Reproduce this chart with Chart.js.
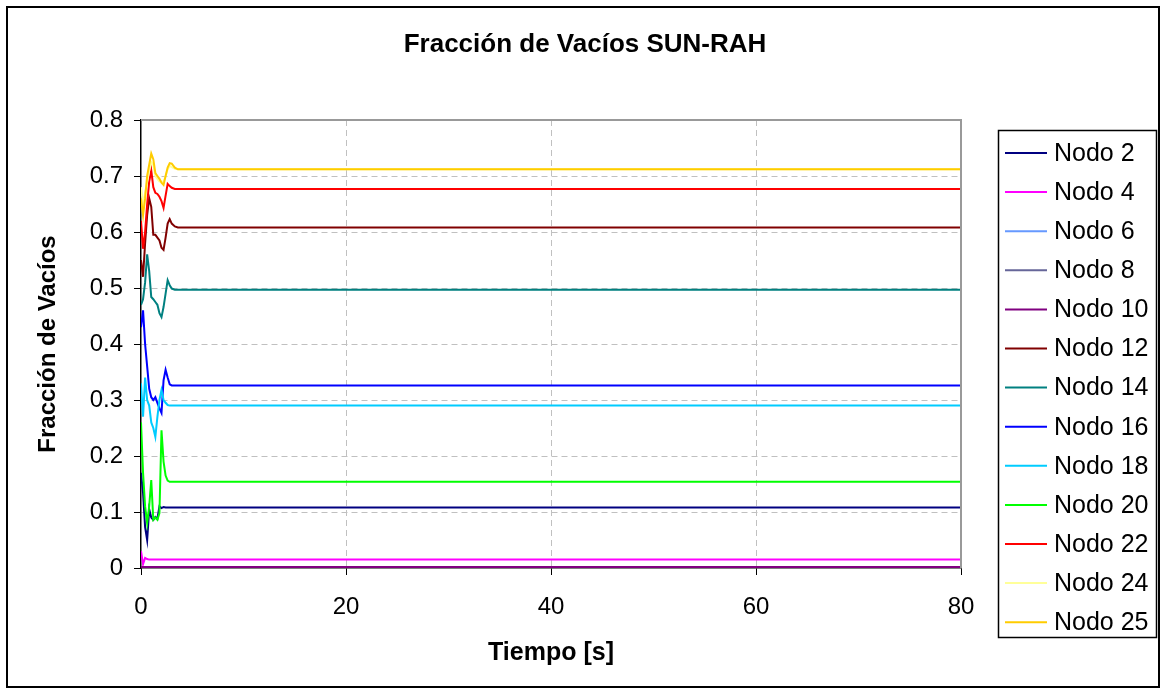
<html lang="es">
<head>
<meta charset="UTF-8">
<title>Fracción de Vacíos SUN-RAH</title>
<script src="https://cdn.jsdelivr.net/npm/chart.js"></script>
<style>
  body { margin: 0; background: #fff; }
  canvas { display: block; }
</style>
</head>
<body>
<canvas id="voidChart" width="1162" height="690"></canvas>
<script>
// time samples [s], shared by every series
const tiempo = [0, 0.2, 0.4, 0.6, 0.8, 1.0, 1.2, 1.4, 1.6, 1.8, 2.0, 2.2, 2.4, 2.6, 2.8, 3.0, 3.3, 3.6, 4.0, 80];

const nodo2  = [0.17, 0.134, 0.073, 0.05, 0.105, 0.09, 0.086, 0.091, 0.088, 0.11, 0.107, 0.109, 0.108, 0.108, 0.108, 0.108, 0.108, 0.108, 0.108, 0.108];
const nodo4  = [0.03, 0.007, 0.018, 0.016, 0.015, 0.015, 0.015, 0.015, 0.015, 0.015, 0.015, 0.015, 0.015, 0.015, 0.015, 0.015, 0.015, 0.015, 0.015, 0.015];
const nodo6  = [0.001, 0.001, 0.001, 0.001, 0.001, 0.001, 0.001, 0.001, 0.001, 0.001, 0.001, 0.001, 0.001, 0.001, 0.001, 0.001, 0.001, 0.001, 0.001, 0.001];
const nodo8  = [0.001, 0.001, 0.001, 0.001, 0.001, 0.001, 0.001, 0.001, 0.001, 0.001, 0.001, 0.001, 0.001, 0.001, 0.001, 0.001, 0.001, 0.001, 0.001, 0.001];
const nodo10 = [0.002, 0.002, 0.002, 0.002, 0.002, 0.002, 0.002, 0.002, 0.002, 0.002, 0.002, 0.002, 0.002, 0.002, 0.002, 0.002, 0.002, 0.002, 0.002, 0.002];
const nodo12 = [0.55, 0.52, 0.58, 0.63, 0.66, 0.645, 0.595, 0.595, 0.59, 0.585, 0.572, 0.568, 0.59, 0.615, 0.623, 0.615, 0.61, 0.608, 0.608, 0.608];
const nodo14 = [0.47, 0.48, 0.51, 0.56, 0.53, 0.484, 0.48, 0.475, 0.47, 0.455, 0.448, 0.466, 0.49, 0.514, 0.505, 0.499, 0.497, 0.497, 0.497, 0.497];
const nodo16 = [0.43, 0.46, 0.40, 0.36, 0.32, 0.305, 0.30, 0.305, 0.295, 0.285, 0.277, 0.335, 0.354, 0.34, 0.328, 0.326, 0.326, 0.326, 0.326, 0.326];
const nodo18 = [0.33, 0.27, 0.34, 0.30, 0.29, 0.26, 0.25, 0.234, 0.27, 0.30, 0.318, 0.30, 0.295, 0.291, 0.29, 0.29, 0.29, 0.29, 0.29, 0.29];
const nodo20 = [0.26, 0.17, 0.11, 0.08, 0.11, 0.157, 0.086, 0.09, 0.086, 0.098, 0.246, 0.19, 0.165, 0.156, 0.154, 0.154, 0.154, 0.154, 0.154, 0.154];
const nodo22 = [0.62, 0.57, 0.60, 0.65, 0.69, 0.71, 0.68, 0.67, 0.668, 0.663, 0.655, 0.643, 0.665, 0.686, 0.682, 0.679, 0.677, 0.677, 0.677, 0.677];
const nodo24 = [0.68, 0.65, 0.67, 0.69, 0.71, 0.725, 0.72, 0.70, 0.695, 0.69, 0.69, 0.69, 0.70, 0.712, 0.718, 0.716, 0.713, 0.712, 0.712, 0.712];
const nodo25 = [0.66, 0.63, 0.66, 0.70, 0.72, 0.74, 0.73, 0.705, 0.70, 0.695, 0.688, 0.684, 0.70, 0.715, 0.723, 0.722, 0.715, 0.712, 0.712, 0.712];

const nombres = ['Nodo 2', 'Nodo 4', 'Nodo 6', 'Nodo 8', 'Nodo 10', 'Nodo 12', 'Nodo 14',
                 'Nodo 16', 'Nodo 18', 'Nodo 20', 'Nodo 22', 'Nodo 24', 'Nodo 25'];
const series = [nodo2, nodo4, nodo6, nodo8, nodo10, nodo12, nodo14, nodo16, nodo18, nodo20, nodo22, nodo24, nodo25];
const colores = ['#000080', '#ff00ff', '#6699ff', '#666699', '#800080', '#800000', '#008080',
                 '#0000ff', '#00ccff', '#00ff00', '#ff0000', '#ffff99', '#ffcc00'];

const yTicks = [0, 0.1, 0.2, 0.3, 0.4, 0.5, 0.6, 0.7, 0.8];
const xTicks = [0, 20, 40, 60, 80];

const FONT = "'Liberation Sans', Arial, sans-serif";

// frame, title, plot border and the boxed legend
const decor = {
  id: 'decor',
  afterDraw(chart) {
    const c = chart.ctx;
    const a = chart.chartArea;
    c.save();
    // plot border top/right (grey, solid)
    c.strokeStyle = '#999';
    c.lineWidth = 2;
    c.beginPath();
    c.moveTo(a.left, a.top);
    c.lineTo(a.right, a.top);
    c.lineTo(a.right, a.bottom);
    c.stroke();
    // outer frame
    c.strokeStyle = '#000';
    c.lineWidth = 2;
    c.strokeRect(7, 7, 1152, 680);
    // title
    c.fillStyle = '#000';
    c.font = 'bold 26px ' + FONT;
    c.textAlign = 'center';
    c.textBaseline = 'middle';
    c.fillText('Fracción de Vacíos SUN-RAH', 585, 45);
    // legend
    c.lineWidth = 1.5;
    c.strokeStyle = '#000';
    c.strokeRect(998.5, 130.5, 158, 507);
    c.font = '25px ' + FONT;
    c.textAlign = 'left';
    chart.data.datasets.forEach((ds, i) => {
      const y = 153 + i * 39.1;
      c.strokeStyle = ds.borderColor;
      c.lineWidth = 2;
      c.beginPath();
      c.moveTo(1005, y);
      c.lineTo(1047, y);
      c.stroke();
      c.fillStyle = '#000';
      c.fillText(ds.label, 1054, y + 1);
    });
    c.restore();
  }
};

new Chart(document.getElementById('voidChart'), {
  type: 'line',
  data: {
    datasets: series.map((vals, i) => ({
      label: nombres[i],
      data: tiempo.map((t, k) => ({ x: t, y: vals[k] })),
      borderColor: colores[i],
      backgroundColor: colores[i],
      borderWidth: 2,
      pointRadius: 0,
      tension: 0,
      fill: false,
      order: series.length - i
    }))
  },
  options: {
    responsive: false,
    animation: false,
    devicePixelRatio: 1,
    layout: { padding: { top: 120, right: 201, left: 0, bottom: 0 } },
    plugins: {
      legend: { display: false },
      title: { display: false },
      tooltip: { enabled: false }
    },
    scales: {
      x: {
        type: 'linear',
        min: 0,
        max: 80,
        afterBuildTicks: s => { s.ticks = xTicks.map(v => ({ value: v })); },
        afterFit: s => { s.height = 122; },
        grid: {
          color: ctx => (ctx.tick && (ctx.tick.value === 0 || ctx.tick.value === 80)) ? 'rgba(0,0,0,0)' : '#c0c0c0',
          tickColor: '#000',
          tickLength: 7,
          lineWidth: 1
        },
        border: { color: '#000', width: 1.5, dash: [6, 4] },
        ticks: { color: '#000', font: { family: FONT, size: 24 }, padding: 18, maxRotation: 0 },
        title: {
          display: true,
          text: 'Tiempo [s]',
          color: '#000',
          font: { family: FONT, size: 25, weight: 'bold' },
          padding: { top: 0, bottom: 22 }
        }
      },
      y: {
        type: 'linear',
        min: 0,
        max: 0.8,
        afterBuildTicks: s => { s.ticks = yTicks.map(v => ({ value: v })); },
        afterFit: s => { s.width = 141; },
        grid: {
          color: ctx => (ctx.tick && (ctx.tick.value === 0 || ctx.tick.value === 0.8)) ? 'rgba(0,0,0,0)' : '#c0c0c0',
          tickColor: '#000',
          tickLength: 7,
          lineWidth: 1
        },
        border: { color: '#000', width: 1.5, dash: [6, 4] },
        ticks: {
          color: '#000',
          font: { family: FONT, size: 24 },
          padding: 11,
          callback: v => String(Math.round(v * 10) / 10)
        },
        title: {
          display: true,
          text: 'Fracción de Vacíos',
          color: '#000',
          font: { family: FONT, size: 24, weight: 'bold' },
          padding: { top: 34, bottom: 0 }
        }
      }
    }
  },
  plugins: [decor]
});
</script>
</body>
</html>
